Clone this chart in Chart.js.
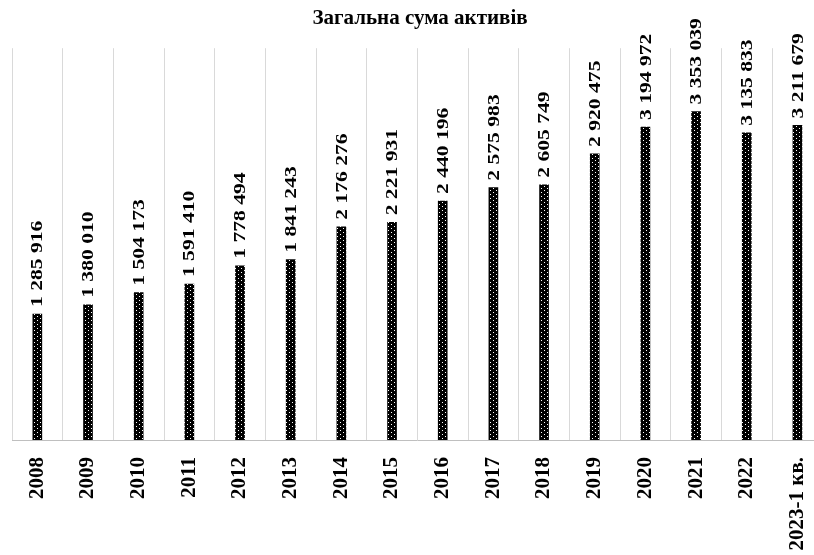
<!DOCTYPE html>
<html lang="uk">
<head>
<meta charset="utf-8">
<title>Загальна сума активів</title>
<script src="https://cdn.jsdelivr.net/npm/chart.js@4/dist/chart.umd.min.js"></script>
<style>
    html, body { margin: 0; padding: 0; background: #fff; overflow: hidden; }
    #wrap { width: 840px; height: 555px; }
</style>
</head>
<body>
<div id="wrap"><canvas id="assetsChart" width="840" height="555"></canvas></div>
<script>
const years = ['2008', '2009', '2010', '2011', '2012', '2013', '2014', '2015', '2016', '2017', '2018', '2019', '2020', '2021', '2022', '2023-1 кв.'];
const totalAssets = [1285916, 1380010, 1504173, 1591410, 1778494, 1841243, 2176276, 2221931, 2440196, 2575983, 2605749, 2920475, 3194972, 3353039, 3135833, 3211679];
const chartTitle = 'Загальна сума активів';

const serif = '"Liberation Serif", "DejaVu Serif", serif';

// black bar with little white dots
function dottedPattern() {
    const tile = document.createElement('canvas');
    tile.width = 6;
    tile.height = 4;
    const t = tile.getContext('2d');
    t.fillStyle = '#000';
    t.fillRect(0, 0, 6, 4);
    t.fillStyle = '#fff';
    t.fillRect(1, 0, 1, 1);
    t.fillRect(4, 2, 1, 1);
    return t.createPattern(tile, 'repeat');
}

// value 1285916 -> "1 285 916"
function spaced(v) {
    return String(v).replace(/\B(?=(\d{3})+(?!\d))/g, ' ');
}

// rotated value labels above the bars (the original text is stretched lengthwise)
const valueLabels = {
    id: 'valueLabels',
    afterDatasetsDraw(chart) {
        const ctx = chart.ctx;
        const meta = chart.getDatasetMeta(0);
        ctx.save();
        ctx.font = 'bold 16px ' + serif;
        ctx.fillStyle = '#000';
        ctx.textAlign = 'left';
        ctx.textBaseline = 'middle';
        meta.data.forEach((bar, i) => {
            ctx.save();
            ctx.translate(bar.x, bar.y - 7);
            ctx.rotate(-Math.PI / 2);
            ctx.scale(1.35, 1);
            ctx.fillText(spaced(totalAssets[i]), 0, 1);
            ctx.restore();
        });
        ctx.restore();
    }
};

document.addEventListener('DOMContentLoaded', function() {
    const ctx = document.getElementById('assetsChart').getContext('2d');
    new Chart(ctx, {
        type: 'bar',
        data: {
            labels: years,
            datasets: [{
                label: chartTitle,
                data: totalAssets,
                backgroundColor: dottedPattern(),
                borderWidth: 0,
                barThickness: 9
            }]
        },
        options: {
            responsive: false,
            animation: false,
            layout: {
                padding: { left: 12, right: 12, top: 0, bottom: 0 }
            },
            scales: {
                x: {
                    grid: {
                        display: true,
                        offset: true,
                        color: '#d9d9d9',
                        drawTicks: false
                    },
                    border: { display: true, color: '#bfbfbf' },
                    ticks: {
                        color: '#000',
                        font: { family: serif, size: 21, weight: 'bold' },
                        minRotation: 90,
                        maxRotation: 90,
                        autoSkip: false,
                        padding: 17
                    },
                    afterFit: function(scale) { scale.height = 115; }
                },
                y: {
                    display: false,
                    min: 0,
                    max: 4000000
                }
            },
            plugins: {
                legend: { display: false },
                tooltip: { enabled: false },
                title: {
                    display: true,
                    text: chartTitle,
                    color: '#000',
                    font: { family: serif, size: 21, weight: 'bold' },
                    padding: { top: 6, bottom: 17 }
                }
            }
        },
        plugins: [valueLabels]
    });
});
</script>
</body>
</html>
